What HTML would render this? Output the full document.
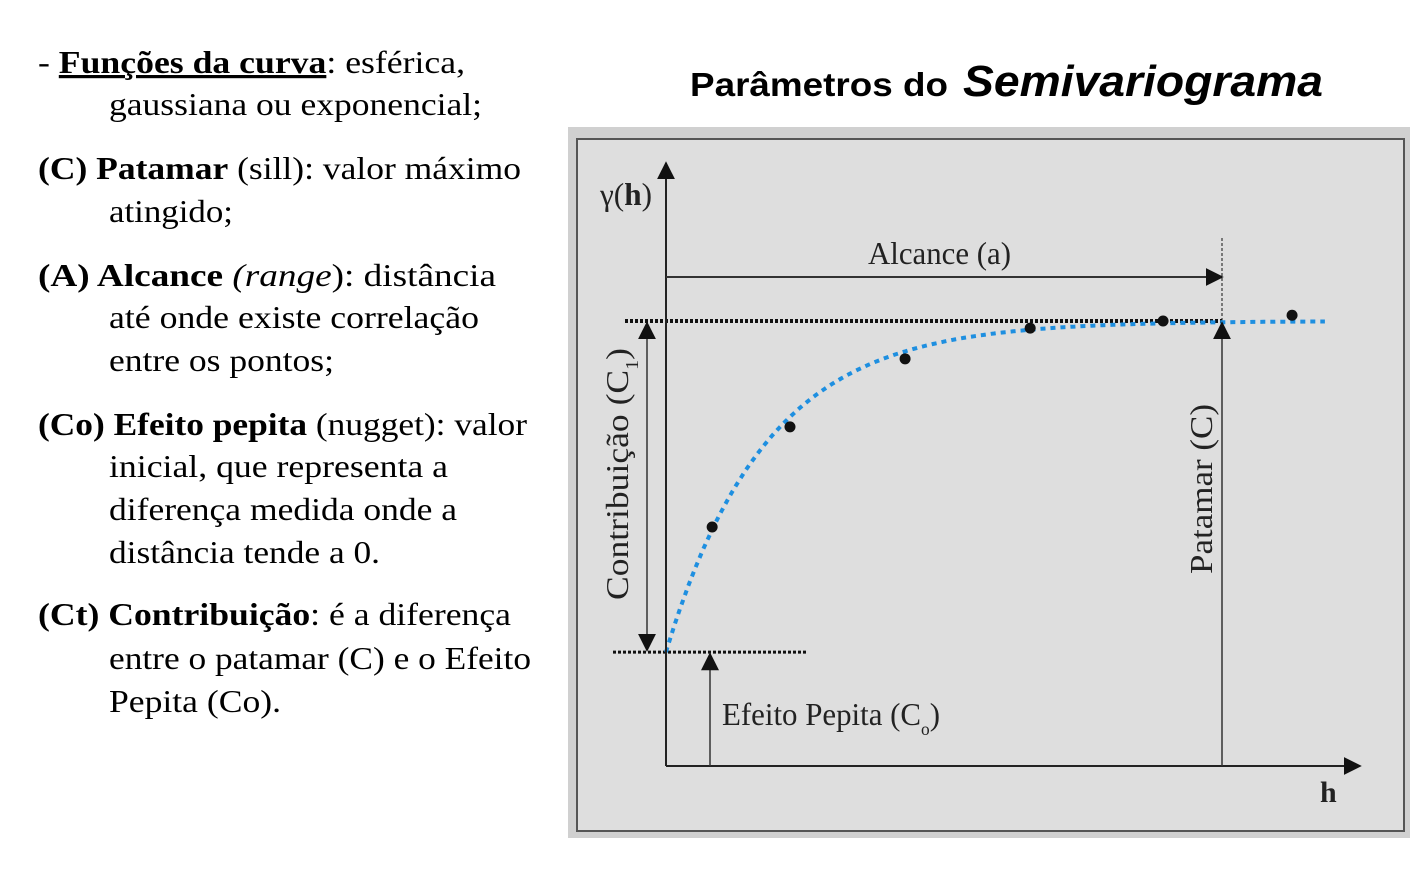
<!DOCTYPE html>
<html><head><meta charset="utf-8">
<style>
html,body{margin:0;padding:0;background:#fff;}
svg{display:block;}
.t{font-family:"Liberation Serif",serif;font-size:32px;fill:#000;}
.c{font-family:"Liberation Serif",serif;fill:#222;}
</style></head>
<body>
<svg id="chart" width="1410" height="877" viewBox="0 0 1410 877" xmlns="http://www.w3.org/2000/svg">
<defs>
<marker id="ah" viewBox="0 0 10 10" refX="9" refY="5" markerWidth="10" markerHeight="10" markerUnits="userSpaceOnUse" orient="auto-start-reverse"><path d="M0,0 L10,5 L0,10 z" fill="#111"/></marker>
<marker id="ahb" viewBox="0 0 10 10" refX="9" refY="5" markerWidth="18" markerHeight="18" markerUnits="userSpaceOnUse" orient="auto-start-reverse"><path d="M0,0 L10,5 L0,10 z" fill="#111"/></marker>
</defs>
<g>
<text class="t" x="38" y="73" textLength="427" lengthAdjust="spacingAndGlyphs">- <tspan font-weight="bold" text-decoration="underline">Funções da curva</tspan>: esférica,</text>
<text class="t" x="109" y="115" textLength="373" lengthAdjust="spacingAndGlyphs">gaussiana ou exponencial;</text>
<text class="t" x="38" y="179" textLength="483" lengthAdjust="spacingAndGlyphs"><tspan font-weight="bold">(C) Patamar</tspan> (sill):  valor máximo</text>
<text class="t" x="109" y="222" textLength="124" lengthAdjust="spacingAndGlyphs">atingido;</text>
<text class="t" x="38" y="286" textLength="458" lengthAdjust="spacingAndGlyphs"><tspan font-weight="bold">(A)   Alcance</tspan> <tspan font-style="italic">(range</tspan>): distância</text>
<text class="t" x="109" y="328" textLength="370" lengthAdjust="spacingAndGlyphs">até onde existe correlação</text>
<text class="t" x="109" y="371" textLength="225" lengthAdjust="spacingAndGlyphs">entre os pontos;</text>
<text class="t" x="38" y="435" textLength="489" lengthAdjust="spacingAndGlyphs"><tspan font-weight="bold">(Co) Efeito pepita</tspan> (nugget): valor</text>
<text class="t" x="109" y="477" textLength="339" lengthAdjust="spacingAndGlyphs">inicial,  que representa a</text>
<text class="t" x="109" y="520" textLength="348" lengthAdjust="spacingAndGlyphs">diferença medida onde a</text>
<text class="t" x="109" y="563" textLength="271" lengthAdjust="spacingAndGlyphs">distância tende a 0.</text>
<text class="t" x="38" y="625" textLength="473" lengthAdjust="spacingAndGlyphs"><tspan font-weight="bold">(Ct) Contribuição</tspan>: é a diferença</text>
<text class="t" x="109" y="669" textLength="422" lengthAdjust="spacingAndGlyphs">entre o patamar (C) e o Efeito</text>
<text class="t" x="109" y="712" textLength="172" lengthAdjust="spacingAndGlyphs">Pepita (Co).</text>
</g>
<text x="690" y="96" font-family="Liberation Sans,sans-serif" font-weight="bold" font-size="33" textLength="258" lengthAdjust="spacingAndGlyphs">Parâmetros do</text>
<text x="963" y="96" font-family="Liberation Sans,sans-serif" font-weight="bold" font-style="italic" font-size="44" textLength="360" lengthAdjust="spacingAndGlyphs">Semivariograma</text>
<rect x="568" y="127" width="842" height="711" fill="#d0d0d0"/>
<rect x="577" y="139" width="827" height="692" fill="#dedede" stroke="#555" stroke-width="2"/>
<g id="plot"></g>
</svg>
<script>
const lags = [8.3, 22.3, 43, 65.5, 89.4, 112.6];
const gammas = [0.537, 0.762, 0.915, 0.984, 1.0, 1.013];
const nugget = [0.256];
const sill = [1.0];
const rangeA = [100];
const scaleR = [18];

const X0 = 666, Y0 = 766;
const xs = h => X0 + h * 5.56;
const ys = g => Y0 - g * 445;
const NS = 'http://www.w3.org/2000/svg';
const plot = document.getElementById('plot');
function mk(tag, attrs, parent) {
  const e = document.createElementNS(NS, tag);
  for (const k in attrs) e.setAttribute(k, attrs[k]);
  (parent || plot).appendChild(e);
  return e;
}
const ySill = ys(sill[0]), yNug = ys(nugget[0]), xA = xs(rangeA[0]);

let e = mk('line', {x1: 625, y1: ySill, x2: xA, y2: ySill, stroke: '#111', 'stroke-width': 4, 'stroke-dasharray': '3 2'});


e = mk('line', {x1: 613, y1: yNug, x2: 807, y2: yNug, stroke: '#111', 'stroke-width': 3, 'stroke-dasharray': '3 2'});


e = mk('line', {x1: xA, y1: 238, x2: xA, y2: ySill, stroke: '#111', 'stroke-width': 1, 'stroke-dasharray': '3 2'});



let d = '';
for (let h = 0; h <= 118.5; h += 0.5) {
  const g = nugget[0] + (sill[0] - nugget[0]) * (1 - Math.exp(-h / scaleR[0]));
  d += (h === 0 ? 'M' : 'L') + xs(h).toFixed(1) + ',' + ys(g).toFixed(1);
}
e = mk('path', {d: d, fill: 'none', stroke: '#1e8fe0', 'stroke-width': 4, 'stroke-dasharray': '5 5'});



lags.forEach((h, i) => {
  const c = mk('circle', {cx: xs(h), cy: ys(gammas[i]), r: 5.5, fill: '#111'});
  
  
});

e = mk('line', {x1: X0, y1: Y0, x2: X0, y2: 163, stroke: '#222', 'stroke-width': 2, 'marker-end': 'url(#ahb)'});


e = mk('line', {x1: X0, y1: Y0, x2: 1360, y2: Y0, stroke: '#222', 'stroke-width': 2, 'marker-end': 'url(#ahb)'});



e = mk('line', {x1: X0, y1: 277, x2: xA, y2: 277, stroke: '#333', 'stroke-width': 2, 'marker-end': 'url(#ahb)'});


e = mk('line', {x1: xA, y1: Y0, x2: xA, y2: ySill + 2, stroke: '#333', 'stroke-width': 1.5, 'marker-end': 'url(#ahb)'});


e = mk('line', {x1: 647, y1: ySill + 2, x2: 647, y2: yNug - 2, stroke: '#333', 'stroke-width': 1.5, 'marker-start': 'url(#ahb)', 'marker-end': 'url(#ahb)'});


e = mk('line', {x1: 710, y1: Y0, x2: 710, y2: yNug + 2, stroke: '#333', 'stroke-width': 1.5, 'marker-end': 'url(#ahb)'});



function label(txt, attrs, name) {
  const t = mk('text', Object.assign({class: 'c', lengthAdjust: 'spacingAndGlyphs'}, attrs));
  t.innerHTML = txt;
  
  
  return t;
}
label('γ(<tspan font-weight="bold">h</tspan>)', {x: 600, y: 205, 'font-size': 32, textLength: 52}, 'y-axis-title');
label('h', {x: 1320, y: 802, 'font-size': 30, 'font-weight': 'bold'}, 'x-axis-title');
label('Alcance (a)', {x: 868, y: 264, 'font-size': 32, textLength: 143}, 'range-label');
label('Efeito Pepita (C<tspan dy="10" font-size="18">o</tspan><tspan dy="-10">)</tspan>', {x: 722, y: 725, 'font-size': 32, textLength: 218}, 'nugget-label');
label('Contribuição (C<tspan dy="10" font-size="18">1</tspan><tspan dy="-10">)</tspan>', {x: 0, y: 0, 'font-size': 32, transform: 'translate(628,600) rotate(-90)', textLength: 252}, 'contribution-label');
label('Patamar (C)', {x: 0, y: 0, 'font-size': 32, transform: 'translate(1212,574) rotate(-90)', textLength: 170}, 'sill-label');
</script>
</body></html>
